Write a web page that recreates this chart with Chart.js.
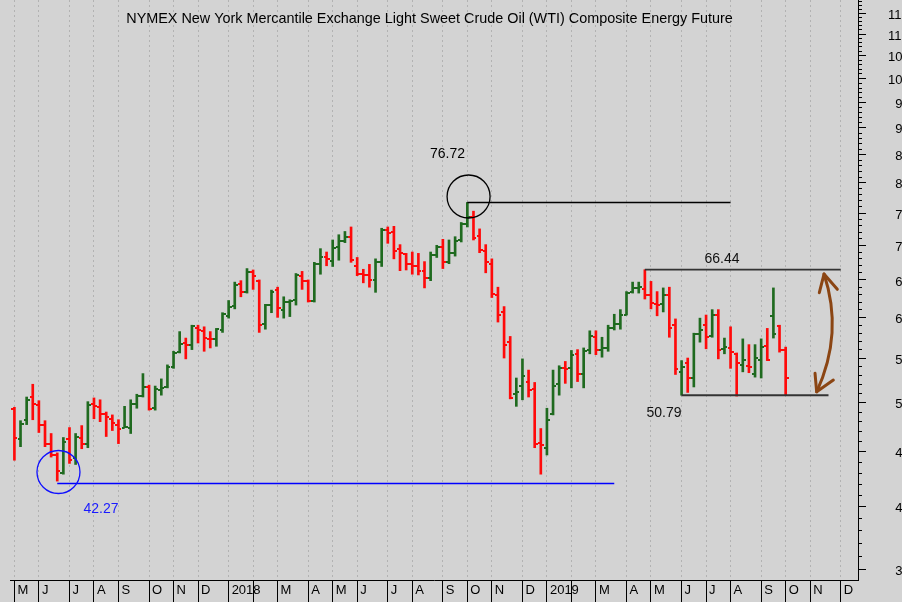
<!DOCTYPE html>
<html><head><meta charset="utf-8">
<script src="https://cdn.jsdelivr.net/npm/chart.js@4/dist/chart.umd.min.js"></script>
<style>
html,body{margin:0;padding:0;background:#d3d3d3;overflow:hidden;}
#wrap{width:902px;height:602px;overflow:hidden;position:relative;background:#d3d3d3;}
#c{display:block;}
</style></head><body>
<div id="wrap"><canvas id="c" width="902" height="602"></canvas></div>
<script>
// ---- data (weekly bars, Fridays, first bar = 2017-05-05) ----
const titleText = 'NYMEX New York Mercantile Exchange Light Sweet Crude Oil (WTI) Composite Energy Future';
const opens = [49.3,46.3,48.2,50.6,49.7,47.7,45.8,44.7,43.0,46.3,44.4,46.4,45.8,49.8,49.5,48.8,48.3,47.7,47.4,47.4,49.9,50.7,51.7,49.4,51.4,51.7,54.0,55.7,56.8,56.6,58.6,58.3,57.3,57.3,58.4,
 60.2,61.5,64.4,63.4,66.1,64.9,59.2,61.6,63.6,61.0,62.0,62.3,65.6,64.8,62.1,67.3,68.3,67.7,69.8,70.6,71.3,67.0,65.9,65.7,65.0,67.6,72.4,72.0,69.5,68.7,67.3,67.0,66.2,65.3,68.6,69.8,67.6,68.9,70.8,73.3,74.3,71.4,69.1,67.3,62.9,60.7,56.9,50.9,51.8,52.2,51.5,45.9,
 45.4,48.8,52.0,53.8,53.8,55.5,53.1,56.0,57.5,55.9,56.2,58.6,59.1,60.3,63.3,63.9,63.8,63.0,61.7,61.7,63.0,59.0,53.4,54.4,52.7,57.9,59.0,57.7,60.3,56.1,56.2,55.5,54.2,54.1,53.2,54.8,56.4,60.2,58.9,56.0];
const highs = [49.5,48.1,50.6,52.0,50.2,48.1,46.8,44.9,46.4,47.4,46.8,47.6,50.1,50.5,50.3,49.0,48.7,48.2,49.6,50.3,50.9,53.2,51.9,51.8,52.6,54.2,55.8,58.2,57.4,59.0,59.0,58.8,58.2,58.6,60.6,
 62.2,64.7,64.9,66.6,66.4,65.0,61.7,63.6,64.0,62.7,62.3,65.9,66.2,65.0,67.5,69.5,69.0,70.8,71.6,72.1,72.8,68.2,66.5,67.2,68.0,72.6,72.8,72.9,70.1,68.8,69.0,68.8,67.6,69.0,70.0,70.9,70.8,71.3,73.5,76.72,75.3,72.5,70.1,68.0,64.0,61.4,57.6,52.7,54.9,53.6,52.2,47.3,
 49.4,53.6,54.1,54.6,55.9,56.0,56.2,58.3,58.3,57.5,59.0,60.4,61.0,63.4,64.7,64.7,66.44,64.8,63.4,63.9,64.0,59.8,54.7,55.0,58.0,59.9,60.3,61.0,61.0,57.4,58.8,55.6,57.3,56.6,56.6,57.3,58.6,63.9,59.0,56.3];
const lows = [44.2,45.5,47.7,48.2,46.9,45.5,44.5,42.27,42.9,43.9,43.8,45.3,45.4,48.3,48.0,46.5,47.1,45.8,47.4,46.8,49.4,50.6,49.2,49.2,50.8,51.6,53.8,55.6,54.9,56.0,56.8,55.8,56.2,56.4,58.1,
 59.9,61.1,62.7,63.2,63.7,58.1,58.5,60.6,60.0,59.9,60.1,61.6,63.7,62.0,62.0,65.8,67.0,66.9,67.8,70.4,67.5,65.6,64.6,64.0,63.3,66.9,70.3,68.0,66.3,66.4,65.8,65.7,63.9,64.9,68.2,66.6,67.3,68.4,70.5,72.8,70.8,68.9,66.0,62.6,59.4,55.0,50.4,49.6,50.3,50.6,45.4,42.9,
 44.7,48.7,50.8,52.1,51.6,52.3,51.6,55.5,55.4,55.1,55.8,58.4,58.5,60.3,63.2,63.2,62.4,61.1,60.2,60.7,57.5,53.1,50.79,51.1,51.7,56.9,56.1,57.5,54.9,55.5,53.8,50.7,53.4,53.3,52.8,52.7,54.7,57.4,55.7,50.8];
const closes = [46.4,47.8,50.3,49.8,47.7,45.8,44.7,43.2,46.0,44.2,46.5,45.8,49.7,49.6,48.8,48.5,47.9,47.3,47.5,49.9,50.7,51.7,49.3,51.5,51.6,53.9,55.6,56.7,56.5,58.9,58.4,57.4,57.3,58.5,60.4,
 61.4,64.3,63.4,66.1,65.5,59.0,61.6,63.4,61.2,62.0,62.2,65.7,64.9,62.1,67.3,68.3,68.0,69.6,70.6,71.2,67.9,65.9,65.7,65.0,67.6,72.4,71.9,69.2,68.9,67.3,67.0,66.3,65.3,68.6,69.7,67.5,68.9,70.7,73.2,74.3,71.1,69.3,67.6,63.1,60.3,56.6,50.5,51.2,52.9,51.4,45.8,45.7,
 48.2,51.8,53.8,53.7,55.4,53.2,55.8,57.6,56.0,56.2,58.6,59.1,60.3,63.2,63.9,64.0,63.0,61.9,61.6,63.0,58.7,53.7,53.9,52.7,57.9,58.4,57.5,60.3,55.9,56.3,55.7,54.4,54.8,53.9,55.0,56.3,54.8,57.9,55.9,52.7];
const monthTickIdx = [0,4,9,13,17,22,26,30,35,39,43,48,52,56,61,65,70,74,78,83,87,91,95,100,104,109,113,117,122,126,130,135];
const monthTickLabels = ['M','J','J','A','S','O','N','D','2018','','M','A','M','J','J','A','S','O','N','D','2019','','M','A','M','J','J','A','S','O','N','D'];
const priceMajorTicks = [35,40,45,50,55,60,65,70,75,80,85,90,95,100,105,110,115];
const priceMinorTicks = Array.from({length:84},(_, k)=>35+k);
const peakLevel = 76.72, troughLevel = 42.27, rangeTop = 66.44, rangeBottom = 50.79;

// ---- annotation placement (data units) ----
const peakLine = {from:74, to:117};
const troughLine = {from:7, to:98, drawAt:42.05};
const rangeTopLine = {from:103, to:135};
const rangeBottomLine = {from:109, to:133};
const notes = [
  {text:'76.72', at:[70.76, 85.0], color:'#000000'},
  {text:'42.27', at:[14.15, 39.85], color:'#1a1aff'},
  {text:'66.44', at:[115.6, 67.95], color:'#111111'},
  {text:'50.79', at:[106.13, 48.9], color:'#111111'}
];
const arrowPath = {p0:[132.27,65.83], c:[135.48,58.0], p2:[131.07,51.17],
  head0:[[131.50,63.25],[134.44,63.71]], head2:[[130.80,53.23],[133.79,52.47]]};

// ---- build ----
const UP = '#1f6a1f', DOWN = '#ff0a0a';
const colors = closes.map((c,i)=> c >= (i>0 ? closes[i-1] : opens[i]) ? UP : DOWN);
function tickImg(color, left){
  const c = document.createElement('canvas'); c.width = 6; c.height = 2;
  const g = c.getContext('2d'); g.fillStyle = color;
  g.fillRect(left ? 0 : 3, 0, 3, 2); return c;
}
const imgs = {oU:tickImg(UP,true), oD:tickImg(DOWN,true), cU:tickImg(UP,false), cD:tickImg(DOWN,false)};
const openStyles = colors.map(c=> c===UP ? imgs.oU : imgs.oD);
const closeStyles = colors.map(c=> c===UP ? imgs.cU : imgs.cD);

const yMin = 34.21, yMax = 118.3;

const annoPlugin = {
  id:'anno',
  afterDatasetsDraw(chart){
    const {ctx, chartArea, scales:{x, y}} = chart;
    const P = (pt)=>[x.getPixelForValue(pt[0]), y.getPixelForValue(pt[1])];
    ctx.save();
    ctx.textAlign = 'center'; ctx.textBaseline = 'middle';
    ctx.fillStyle = '#000';
    ctx.font = '14.4px "Liberation Sans", Arial, sans-serif';
    ctx.fillText(titleText, (chartArea.left + chartArea.right)/2 - 4.5, 19);
    ctx.font = '14px "Liberation Sans", Arial, sans-serif';
    for (const n of notes){ const p = P(n.at); ctx.fillStyle = n.color; ctx.fillText(n.text, p[0], p[1]); }
    ctx.strokeStyle = '#8b4513'; ctx.lineWidth = 3; ctx.lineCap = 'round'; ctx.lineJoin = 'round';
    const a = P(arrowPath.p0), c = P(arrowPath.c), b = P(arrowPath.p2);
    ctx.beginPath(); ctx.moveTo(a[0],a[1]); ctx.quadraticCurveTo(c[0],c[1],b[0],b[1]); ctx.stroke();
    const h0 = arrowPath.head0.map(P), h2 = arrowPath.head2.map(P);
    ctx.beginPath(); ctx.moveTo(h0[0][0],h0[0][1]); ctx.lineTo(a[0],a[1]); ctx.lineTo(h0[1][0],h0[1][1]); ctx.stroke();
    ctx.beginPath(); ctx.moveTo(h2[0][0],h2[0][1]); ctx.lineTo(b[0],b[1]); ctx.lineTo(h2[1][0],h2[1][1]); ctx.stroke();
    ctx.restore();
  }
};

const lineDs = (pts, color, w)=>({type:'line', data:pts, borderColor:color, borderWidth:w, pointRadius:0, fill:false, order:2, clip:false});

new Chart(document.getElementById('c'), {
  type:'bar',
  data:{datasets:[
    {type:'scatter', data:[{x:74.2, y:77.7}], pointRadius:21.5, pointStyle:'circle', borderColor:'#000', borderWidth:1.3, backgroundColor:'rgba(0,0,0,0)', order:1},
    {type:'scatter', data:[{x:7.2, y:43.1}], pointRadius:21.5, pointStyle:'circle', borderColor:'#1010ff', borderWidth:1.3, backgroundColor:'rgba(0,0,0,0)', order:1},
    lineDs([{x:peakLine.from,y:peakLevel},{x:peakLine.to,y:peakLevel}], '#000', 1.5),
    lineDs([{x:troughLine.from,y:troughLine.drawAt},{x:troughLine.to,y:troughLine.drawAt}], '#0000ff', 1.5),
    lineDs([{x:rangeTopLine.from,y:rangeTop},{x:rangeTopLine.to,y:rangeTop}], '#333', 1.8),
    lineDs([{x:rangeBottomLine.from,y:rangeBottom},{x:rangeBottomLine.to,y:rangeBottom}], '#333', 1.8),
    {type:'scatter', data:opens.map((v,i)=>({x:i,y:v})), pointStyle:openStyles, pointRadius:3, order:3},
    {type:'scatter', data:closes.map((v,i)=>({x:i,y:v})), pointStyle:closeStyles, pointRadius:3, order:3},
    {type:'bar', data:highs.map((h,i)=>({x:i, y:[lows[i], h]})), backgroundColor:colors, borderWidth:0, barThickness:2, order:4}
  ]},
  options:{
    responsive:false, animation:false, devicePixelRatio:1,
    layout:{autoPadding:false, padding:{left:10, top:0, right:0, bottom:0}},
    plugins:{legend:{display:false}, tooltip:{enabled:false}, title:{display:false}},
    scales:{
      x:{type:'linear', min:-0.719, max:137.82, offset:false,
        afterBuildTicks:(s)=>{ s.ticks = monthTickIdx.map(v=>({value:v})); },
        afterFit:(s)=>{ s.height = 22; s.paddingLeft = 0; s.paddingRight = 0; },
        grid:{color:'#b2b2b2', lineWidth:1, tickLength:22, tickColor:'#000', tickBorderDash:[], offset:false},
        border:{display:true, color:'#000', width:1, dash:[2,3]},
        ticks:{autoSkip:false, maxRotation:0, minRotation:0, align:'start', labelOffset:3, padding:-19,
          color:'#000', font:{family:'"Liberation Sans", Arial, sans-serif', size:13},
          callback:(v,i)=>monthTickLabels[i]}
      },
      y2:{type:'logarithmic', position:'right', min:yMin, max:yMax, weight:0,
        afterBuildTicks:(s)=>{ s.ticks = priceMinorTicks.map(v=>({value:v})); },
        afterFit:(s)=>{ s.width = 0; s.paddingTop = 0; s.paddingBottom = 0; },
        grid:{drawOnChartArea:false, tickLength:4, tickColor:'#000'},
        border:{display:false},
        ticks:{display:false, autoSkip:false}
      },
      y:{type:'logarithmic', position:'right', min:yMin, max:yMax, weight:1,
        afterBuildTicks:(s)=>{ s.ticks = priceMajorTicks.map(v=>({value:v})); },
        afterFit:(s)=>{ s.width = 44; s.paddingTop = 0; s.paddingBottom = 0; },
        grid:{drawOnChartArea:false, tickLength:8, tickColor:'#000'},
        border:{display:true, color:'#000', width:1},
        ticks:{padding:22, crossAlign:'near', labelOffset:2, color:'#000', autoSkip:false,
          font:{family:'"Liberation Sans", Arial, sans-serif', size:13},
          callback:(v)=> v < 100 ? '\u2007' + v : String(v)}
      }
    }
  },
  plugins:[annoPlugin]
});
</script>
</body></html>
